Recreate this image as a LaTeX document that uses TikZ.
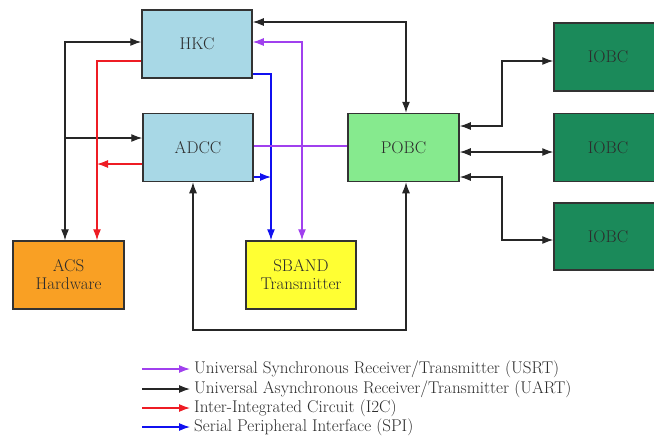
\documentclass[tikz,border=0pt]{standalone}
\usetikzlibrary{arrows.meta}
\definecolor{hkcblue}{HTML}{A8D8E6}
\definecolor{pobcgreen}{HTML}{86EA8E}
\definecolor{iobcgreen}{HTML}{1B8A5A}
\definecolor{acsorange}{HTML}{F9A024}
\definecolor{sbandyellow}{HTML}{FFFF33}
\definecolor{usrtc}{HTML}{A040EE}
\definecolor{spic}{HTML}{1010F0}
\definecolor{i2cc}{HTML}{EE1C24}
\definecolor{txtc}{HTML}{2C2C2C}
\tikzset{
  blk/.style={draw=black!80, line width=1.5pt, minimum width=110pt, minimum height=68pt,
    inner sep=2pt, align=center, text=txtc, font=\fontsize{17}{18}\selectfont},
  conn/.style={line width=1.2pt, >={Latex[length=11pt,width=8pt]}},
  uart/.style={conn, draw=black!85},
  usrt/.style={conn, draw=usrtc},
  i2c/.style={conn, draw=i2cc},
  spi/.style={conn, draw=spic},
  legtxt/.style={anchor=west, inner sep=0pt, text=txtc, font=\fontsize{17}{18}\selectfont},
}
\begin{document}
\begin{tikzpicture}[x=1pt,y=-1pt]
\useasboundingbox (0,0) rectangle (654,437);
\clip (0,0) rectangle (654,437);
% blocks
\node[blk, fill=hkcblue] (HKC) at (197,44) {HKC};
\node[blk, fill=hkcblue] (ADCC) at (198,147.5) {ADCC};
\node[blk, fill=pobcgreen, minimum width=111pt] (POBC) at (403.5,147.5) {POBC};
\node[blk, fill=iobcgreen, minimum width=108pt] (IOBC1) at (608,57) {IOBC};
\node[blk, fill=iobcgreen, minimum width=108pt] (IOBC2) at (608,147.5) {IOBC};
\node[blk, fill=iobcgreen, minimum width=108pt, minimum height=67pt] (IOBC3) at (608,236.5) {IOBC};
\node[blk, fill=acsorange, minimum width=111pt] (ACS) at (68.5,275) {ACS\\Hardware};
\node[blk, fill=sbandyellow] (SBAND) at (301,275) {SBAND\\Transmitter};
% black bus on the left
\coordinate (kx) at (65,42);
\coordinate (ka) at (65,138);
\draw[uart,<->] (HKC.west |- kx) -| (ACS.north -| kx);
\draw[uart,->] (ka) -- (ADCC.west |- ka);
% red I2C
\coordinate (rx) at (97,61);
\coordinate (ra) at (97,164);
\draw[i2c,->] (HKC.west |- rx) -| (ACS.north -| rx);
\draw[i2c,->] (ADCC.west |- ra) -- (ra);
% blue SPI
\coordinate (bx) at (271,74);
\coordinate (ba) at (271,177);
\draw[spi,->] (HKC.east |- bx) -| (SBAND.north -| bx);
\draw[spi,->] (ADCC.east |- ba) -- (ba);
% purple USRT
\coordinate (px) at (302,42);
\coordinate (pa) at (0,146);
\draw[usrt,<->] (HKC.east |- px) -| (SBAND.north -| px);
\draw[usrt] (ADCC.east |- pa) -- (POBC.west |- pa);
% black top HKC - POBC
\coordinate (tx) at (406,22);
\draw[uart,<->] (HKC.east |- tx) -| (POBC.north -| tx);
% black bottom ADCC - POBC
\coordinate (bl) at (193,330);
\coordinate (br) at (406,330);
\draw[uart,<->] (ADCC.south -| bl) -- (bl) -- (br) -- (POBC.south -| br);
% POBC - IOBCs
\coordinate (ia) at (502,126);
\coordinate (ib) at (502,61);
\draw[uart,<->] (POBC.east |- ia) -- (ia) -- (ib) -- (IOBC1.west |- ib);
\coordinate (ic) at (0,152);
\draw[uart,<->] (POBC.east |- ic) -- (IOBC2.west |- ic);
\coordinate (id) at (502,177);
\coordinate (ie) at (502,240);
\draw[uart,<->] (POBC.east |- id) -- (id) -- (ie) -- (IOBC3.west |- ie);
% legend
\coordinate (l1a) at (142,369); \coordinate (l1b) at (190,369);
\coordinate (l2a) at (142,389); \coordinate (l2b) at (190,389);
\coordinate (l3a) at (142,408); \coordinate (l3b) at (190,408);
\coordinate (l4a) at (142,427); \coordinate (l4b) at (190,427);
\draw[usrt,->] (l1a) -- (l1b);
\draw[uart,->] (l2a) -- (l2b);
\draw[i2c,->] (l3a) -- (l3b);
\draw[spi,->] (l4a) -- (l4b);
\node[legtxt] (t1) at (194,369) {Universal Synchronous Receiver/Transmitter (USRT)};
\node[legtxt] (t2) at (194,389) {Universal Asynchronous Receiver/Transmitter (UART)};
\node[legtxt] (t3) at (194,408) {Inter-Integrated Circuit (I2C)};
\node[legtxt] (t4) at (194,427) {Serial Peripheral Interface (SPI)};
\end{tikzpicture}
\end{document}
